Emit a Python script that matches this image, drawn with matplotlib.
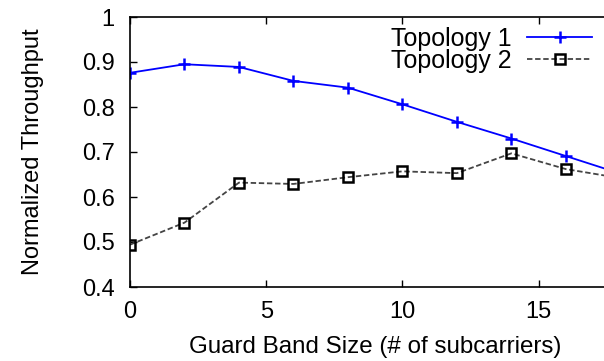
import matplotlib
matplotlib.use("Agg")
import matplotlib.pyplot as plt

guard_band = [0, 2, 4, 6, 8, 10, 12, 14, 16, 18]
topology1 = [0.876, 0.895, 0.889, 0.858, 0.843, 0.806, 0.767, 0.730, 0.691, 0.652]
topology2 = [0.494, 0.543, 0.632, 0.629, 0.644, 0.657, 0.653, 0.697, 0.662, 0.642]
x_ticks = [0, 5, 10, 15]
y_ticks = [0.4, 0.5, 0.6, 0.7, 0.8, 0.9, 1.0]
y_tick_labels = ["0.4", "0.5", "0.6", "0.7", "0.8", "0.9", "1"]

plt.rcParams["font.family"] = ["Liberation Sans", "DejaVu Sans"]

W, H = 604, 361
fig = plt.figure(figsize=(W / 100, H / 100), dpi=100)
ax = fig.add_axes([130 / W, 1 - 287 / H, 1 - 130 / W, (287 - 17) / H])

ax.plot(guard_band, topology1, color="#0000ff", lw=1.3, marker="+",
        markersize=8.5, markeredgewidth=1.8, label="Topology 1")
ax.plot(guard_band, topology2, color="#444444", lw=1.3, ls=(0, (3, 1.5)),
        marker="s", markersize=7, markerfacecolor="none",
        markeredgecolor="black", markeredgewidth=1.8, label="Topology 2")

ax.set_xlim(0, 17.4)
ax.set_ylim(0.4, 1.0)
ax.set_xticks(x_ticks)
ax.set_yticks(y_ticks)
ax.set_yticklabels(y_tick_labels)
ax.tick_params(axis="both", labelsize=17, direction="in", length=5,
               width=1, top=True)
ax.tick_params(axis="x", pad=10)
ax.tick_params(axis="y", pad=11)
ax.spines["right"].set_visible(False)
for s in ("left", "bottom", "top"):
    ax.spines[s].set_linewidth(1.2)

ax.set_xlabel("Guard Band Size (# of subcarriers)", fontsize=17.4)
ax.set_ylabel("Normalized Throughput", fontsize=17)
ax.xaxis.set_label_coords((375 - 130) / 474, (287 - 336) / 270)
ax.yaxis.set_label_coords((44 - 130) / 474, 0.5)

leg = ax.legend(loc="upper right", bbox_to_anchor=(592 / W, 1 - 27 / H),
                bbox_transform=fig.transFigure, frameon=False,
                markerfirst=False, fontsize=18, handlelength=2.6,
                labelspacing=-0.09, borderpad=0, borderaxespad=0,
                handletextpad=0.6)

fig.savefig("out.png", dpi=100)
